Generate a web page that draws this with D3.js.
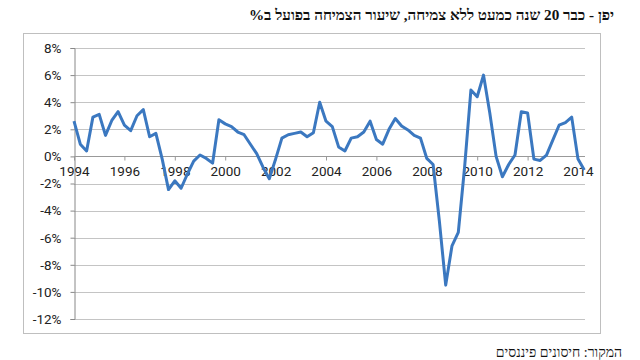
<!DOCTYPE html>
<html>
<head>
<meta charset="utf-8">
<script src="https://cdn.jsdelivr.net/npm/d3@7"></script>
<style>
  html, body { margin: 0; padding: 0; background: #fff; }
  svg { display: block; }
</style>
</head>
<body>
<svg id="chart" width="640" height="360"></svg>
<script>
// ---- data ----
const titleText = "יפן - כבר 20 שנה כמעט ללא צמיחה, שיעור הצמיחה בפועל ב%";
const sourceText = "המקור: חיסונים פיננסים";
const years = ["1994","1995","1996","1997","1998","1999","2000","2001","2002","2003","2004",
               "2005","2006","2007","2008","2009","2010","2011","2012","2013","2014"];
const quarters = ["Q1","Q2","Q3","Q4"];
const growth = [
  2.6, 0.9, 0.4, 2.9, 3.1, 1.55, 2.65, 3.3, 2.3, 1.9,
  3.0, 3.45, 1.45, 1.7, -0.2, -2.45, -1.8, -2.35, -1.3, -0.35,
  0.1, -0.15, -0.5, 2.7, 2.4, 2.2, 1.8, 1.6, 0.9, 0.2,
  -0.8, -1.65, -0.2, 1.35, 1.6, 1.7, 1.8, 1.45, 1.75, 4.0,
  2.6, 2.2, 0.7, 0.4, 1.35, 1.45, 1.8, 2.6, 1.25, 0.9,
  2.0, 2.8, 2.25, 1.95, 1.55, 1.35, -0.15, -0.6, -4.8, -9.5,
  -6.6, -5.6, -0.8, 4.9, 4.4, 6.0, 3.2, 0.0, -1.5, -0.6,
  0.1, 3.3, 3.2, -0.2, -0.3, 0.1, 1.2, 2.3, 2.5, 2.9,
  -0.2, -1.0
];
const xTickLabels = ["1994","1996","1998","2000","2002","2004","2006","2008","2010","2012","2014"];
const yTicks = [8, 6, 4, 2, 0, -2, -4, -6, -8, -10, -12];

// categories (quarters)
const categories = years.flatMap(y => quarters.map(q => y + q)).slice(0, growth.length);
const data = categories.map((c, i) => ({ cat: c, v: growth[i] }));

// ---- layout ----
const svg = d3.select("#chart");
const plotLeft = 74, plotRight = 585;
const lastX = 584.3;
const axisFont = "'Liberation Sans Narrow', 'Arial Narrow', Roboto, sans-serif";

const x = d3.scalePoint().domain(categories).range([plotLeft, lastX]);
const y = d3.scaleLinear().domain([-12, 8]).range([319, 48]);

// chart frame
svg.append("rect")
  .attr("x", 23.5).attr("y", 33.5).attr("width", 577).attr("height", 300)
  .attr("fill", "#fff").attr("stroke", "#bfbfbf").attr("stroke-width", 1);

// gridlines
svg.append("g").selectAll("line").data(yTicks).join("line")
  .attr("x1", plotLeft).attr("x2", plotRight)
  .attr("y1", d => Math.round(y(d)) + 0.5).attr("y2", d => Math.round(y(d)) + 0.5)
  .attr("stroke", "#c4c4c4").attr("stroke-width", 1);

// y axis
const yAxis = d3.axisLeft(y).tickValues(yTicks).tickSize(4).tickPadding(9)
  .tickFormat(d => d + "%");
const gy = svg.append("g").attr("transform", `translate(${plotLeft + 0.5},0)`).call(yAxis);
gy.select(".domain").attr("stroke", "#888");
gy.selectAll(".tick line").attr("stroke", "#888");
gy.selectAll(".tick text").attr("font-family", axisFont).attr("font-size", 13.5).attr("fill", "#222");

// x axis at zero
const xTickCats = xTickLabels.map(t => t + "Q1");
const xAxis = d3.axisBottom(x).tickValues(xTickCats).tickSize(4).tickPadding(6)
  .tickFormat(d => d.slice(0, 4));
const gx = svg.append("g").attr("transform", `translate(0,${Math.round(y(0)) + 0.5})`).call(xAxis);
gx.select(".domain").attr("d", `M${plotLeft},0H${plotRight}`).attr("stroke", "#999");
gx.selectAll(".tick line").attr("stroke", "#999");
gx.selectAll(".tick text").attr("font-family", axisFont).attr("font-size", 13.5).attr("fill", "#222");

// line
const line = d3.line().x(d => x(d.cat)).y(d => y(d.v));
svg.append("path").datum(data)
  .attr("d", line)
  .attr("fill", "none")
  .attr("stroke", "#3b78c0")
  .attr("stroke-width", 3)
  .attr("stroke-linejoin", "round");

// title
svg.append("text")
  .attr("x", 614).attr("y", 20)
  .attr("direction", "rtl")
  .attr("text-anchor", "start")
  .attr("font-family", "'Liberation Serif', 'Times New Roman', serif")
  .attr("font-weight", "bold")
  .attr("font-size", 15.2)
  .attr("fill", "#111")
  .text(titleText);

// source
svg.append("text")
  .attr("x", 622).attr("y", 357)
  .attr("direction", "rtl")
  .attr("text-anchor", "start")
  .attr("font-family", "'Liberation Serif', 'Times New Roman', serif")
  .attr("font-size", 14)
  .attr("fill", "#111")
  .text(sourceText);
</script>
</body>
</html>
